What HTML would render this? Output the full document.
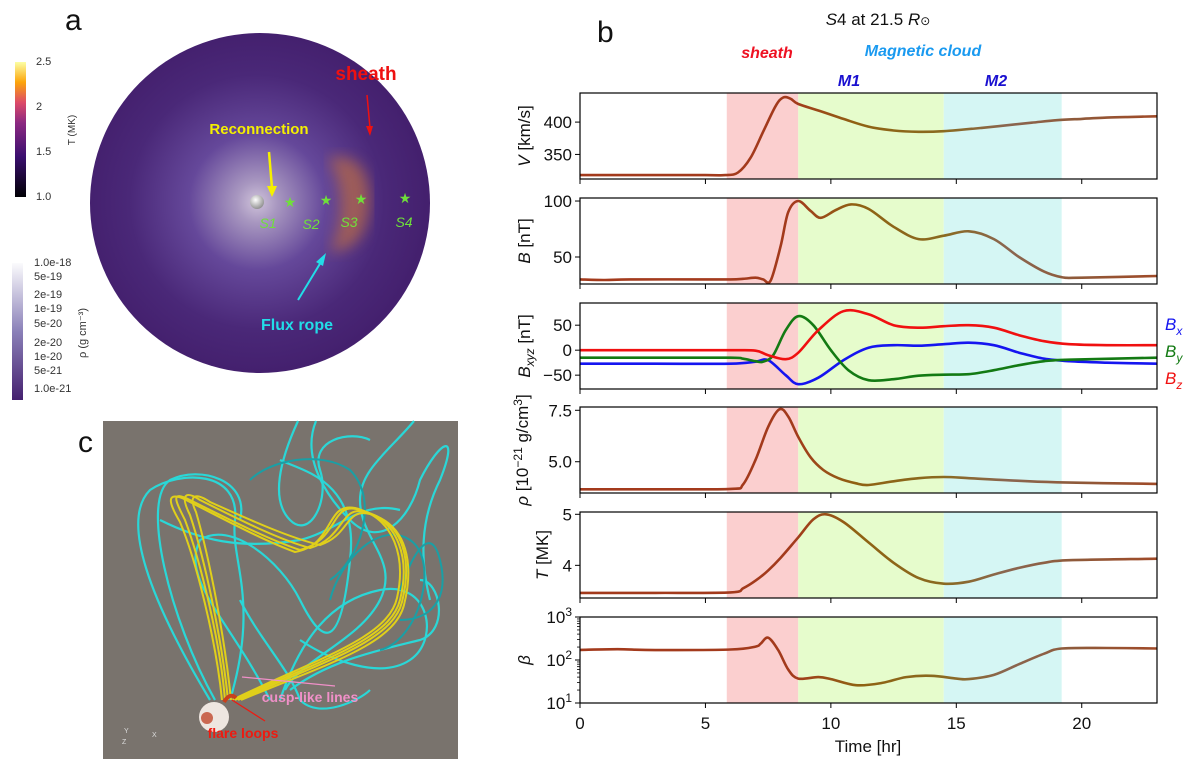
<!DOCTYPE html>
<html><head><meta charset="utf-8"><style>
html,body{margin:0;padding:0;background:#fff;}
svg{display:block;font-family:"Liberation Sans","DejaVu Sans",sans-serif;}
</style></head><body>
<svg id="fig" width="1200" height="759" viewBox="0 0 1200 759" xmlns="http://www.w3.org/2000/svg">
<defs>
<linearGradient id="tbar" x1="0" y1="1" x2="0" y2="0">
<stop offset="0" stop-color="#000004"/><stop offset="0.3" stop-color="#3b0f6f"/><stop offset="0.55" stop-color="#8c2981"/><stop offset="0.7" stop-color="#dd4a68"/><stop offset="0.85" stop-color="#fca50a"/><stop offset="1" stop-color="#fcffa4"/></linearGradient>
<linearGradient id="rbar" x1="0" y1="1" x2="0" y2="0">
<stop offset="0" stop-color="#45206f"/><stop offset="0.5" stop-color="#8a80b8"/><stop offset="1" stop-color="#fbfbfd"/></linearGradient>
<radialGradient id="glow" cx="257" cy="202" r="170" gradientUnits="userSpaceOnUse">
<stop offset="0" stop-color="#cfc2da"/><stop offset="0.12" stop-color="#a897c0"/><stop offset="0.4" stop-color="#65489a"/><stop offset="0.75" stop-color="#4a2878"/><stop offset="1" stop-color="#44206e"/></radialGradient>
<radialGradient id="sunG" cx="0.4" cy="0.35" r="0.7"><stop offset="0" stop-color="#fff"/><stop offset="1" stop-color="#8a8a8a"/></radialGradient>
<filter id="blur"><feGaussianBlur stdDeviation="7"/></filter>
<linearGradient id="lineG" x1="580" y1="0" x2="1157" y2="0" gradientUnits="userSpaceOnUse">
<stop offset="0" stop-color="#a33a1c"/><stop offset="0.37" stop-color="#a33a1c"/><stop offset="0.48" stop-color="#8f6212"/><stop offset="0.63" stop-color="#8a6a20"/><stop offset="0.74" stop-color="#8a6650"/><stop offset="0.86" stop-color="#8f5a3a"/><stop offset="1" stop-color="#a04a28"/></linearGradient>
</defs>

<!-- Panel a -->
<text x="65" y="30" font-size="30" fill="#111">a</text>
<rect x="15" y="62" width="11" height="135" fill="url(#tbar)"/>
<g font-size="11" fill="#333">
<text x="36" y="65">2.5</text><text x="36" y="110">2</text><text x="36" y="155">1.5</text><text x="36" y="200">1.0</text>
</g>
<text transform="translate(75,130) rotate(-90)" font-size="10" fill="#333" text-anchor="middle">T (MK)</text>
<rect x="12" y="263" width="11" height="137" fill="url(#rbar)"/>
<g font-size="11" fill="#333">
<text x="34" y="266">1.0e-18</text><text x="34" y="280">5e-19</text><text x="34" y="298">2e-19</text><text x="34" y="312">1e-19</text><text x="34" y="327">5e-20</text><text x="34" y="346">2e-20</text><text x="34" y="360">1e-20</text><text x="34" y="374">5e-21</text><text x="34" y="392">1.0e-21</text>
</g>
<text transform="translate(86,333) rotate(-90)" font-size="11" fill="#333" text-anchor="middle">ρ (g cm⁻³)</text>

<circle cx="260" cy="203" r="170" fill="url(#glow)"/>
<path d="M328,158 Q368,150 370,200 Q368,250 330,252 Q352,200 328,158Z" fill="#c27040" opacity="0.65" filter="url(#blur)"/>
<circle cx="257" cy="202" r="7" fill="url(#sunG)"/>
<g fill="#6fe03a" font-size="14">
<text x="290" y="207" text-anchor="middle">★</text><text x="326" y="205" text-anchor="middle">★</text><text x="361" y="204" text-anchor="middle">★</text><text x="405" y="203" text-anchor="middle">★</text>
</g>
<g fill="#6fe03a" font-size="14" font-style="italic" text-anchor="middle">
<text x="268" y="228">S1</text><text x="311" y="229">S2</text><text x="349" y="227">S3</text><text x="404" y="227">S4</text>
</g>
<text x="259" y="134" font-size="15" font-weight="bold" fill="#f5f000" text-anchor="middle">Reconnection</text>
<line x1="269" y1="152" x2="272" y2="188" stroke="#f5f000" stroke-width="2.5"/>
<path d="M267,186 L272,197 L277,186Z" fill="#f5f000"/>
<text x="366" y="80" font-size="19" font-weight="bold" fill="#ee1111" text-anchor="middle">sheath</text>
<line x1="367" y1="95" x2="370" y2="128" stroke="#ee1111" stroke-width="1.5"/>
<path d="M366,126 L370,136 L373,126Z" fill="#ee1111"/>
<text x="297" y="330" font-size="16" font-weight="bold" fill="#22dde8" text-anchor="middle">Flux rope</text>
<line x1="298" y1="300" x2="321" y2="262" stroke="#22dde8" stroke-width="2"/>
<path d="M316,262 L326,253 L323,266Z" fill="#22dde8"/>

<!-- Panel c -->
<text x="78" y="452" font-size="30" fill="#111">c</text>
<rect x="103" y="421" width="355" height="338" fill="#79736d"/>
<g fill="none" stroke="#2ad7d7" stroke-width="2.2">
<path d="M210,700 C150,600 120,520 150,490 C180,470 240,470 235,520 C230,560 260,600 230,700"/>
<path d="M215,700 C170,620 140,500 170,480 C200,465 250,480 240,520"/>
<path d="M270,700 C230,620 180,580 200,540 C230,520 280,560 300,600 C320,640 340,660 350,560 C360,480 300,470 280,460"/>
<path d="M280,700 C300,640 330,600 380,590 C430,580 440,640 410,660 C380,680 330,660 300,640"/>
<path d="M298,421 C280,460 270,500 290,520 C310,540 330,500 320,470 C310,440 350,430 370,440"/>
<path d="M316,421 C300,460 330,500 350,520 C380,550 410,520 420,480 C440,440 460,430 440,480 C420,520 420,560 430,600"/>
<path d="M414,421 C390,450 360,470 360,500 C360,540 400,560 380,600 C360,640 300,660 285,690"/>
<path d="M290,690 C330,660 380,650 420,640 C450,630 440,580 420,580"/>
<path d="M240,600 C260,640 290,670 300,700 C320,720 360,700 370,690"/>
<path d="M160,520 C200,540 240,550 300,540 C340,530 360,500 400,510"/>
</g>
<g fill="none" stroke="#1a9fa5" stroke-width="2">
<path d="M330,600 C340,560 380,520 410,540 C440,560 420,640 380,650"/>
<path d="M250,480 C270,460 320,450 350,470 C380,500 360,560 330,580"/>
<path d="M400,620 C430,620 450,600 440,560 C430,520 410,560 400,590"/>
</g>
<g fill="none" stroke="#e0cf1a" stroke-width="2">
<path d="M225,700 C220,640 200,560 185,520 C175,500 170,490 190,500 C230,520 270,540 300,550 C340,540 330,500 360,510 C400,520 410,560 400,600 C390,640 320,660 235,700"/>
<path d="M228,700 C222,640 205,560 190,515 C180,495 185,490 200,500 C240,520 280,540 310,548 C345,538 340,505 365,512 C405,522 412,562 402,602 C392,642 322,662 238,700"/>
<path d="M231,700 C225,640 210,560 196,512 C188,495 195,492 210,502 C250,520 290,538 320,545 C350,535 345,508 370,514 C408,525 414,565 404,605 C394,645 324,665 241,700"/>
<path d="M222,700 C216,640 196,560 180,522 C170,505 165,492 182,498 C222,518 262,540 295,552 C335,545 325,502 355,508 C395,518 406,558 397,598 C388,638 318,658 232,700"/>
</g>
<circle cx="214" cy="717" r="15" fill="#eee6e0"/>
<circle cx="207" cy="718" r="6" fill="#c0492d" opacity="0.8"/>
<path d="M224,702 Q230,692 236,698" fill="none" stroke="#c8401c" stroke-width="4"/>
<text x="310" y="702" font-size="14" font-weight="bold" fill="#f090c8" text-anchor="middle">cusp-like lines</text>
<line x1="335" y1="686" x2="242" y2="677" stroke="#f090c8" stroke-width="1.2"/>
<text x="243" y="738" font-size="14" font-weight="bold" fill="#ee1a10" text-anchor="middle">flare loops</text>
<line x1="265" y1="721" x2="232" y2="700" stroke="#ee1a10" stroke-width="1.2"/>
<g font-size="7" fill="#ddd"><text x="124" y="733">Y</text><text x="122" y="744">Z</text><text x="152" y="737">X</text></g>

<!-- Panel b -->
<text x="597" y="42" font-size="30" fill="#111">b</text>
<text x="878" y="25" font-size="17" fill="#111" text-anchor="middle"><tspan font-style="italic">S</tspan>4 at 21.5 <tspan font-style="italic">R</tspan><tspan font-size="12">⊙</tspan></text>
<text x="767" y="58" font-size="16" font-weight="bold" font-style="italic" fill="#ee1122" text-anchor="middle">sheath</text>
<text x="923" y="56" font-size="16" font-weight="bold" font-style="italic" fill="#1a9af0" text-anchor="middle">Magnetic cloud</text>
<text x="849" y="86" font-size="16" font-weight="bold" font-style="italic" fill="#1a10d0" text-anchor="middle">M1</text>
<text x="996" y="86" font-size="16" font-weight="bold" font-style="italic" fill="#1a10d0" text-anchor="middle">M2</text>
<g id="charts"></g>
</svg>
<script>
const regionBounds = [5.85, 8.7, 14.5, 19.2];
const xTicks = [0, 5, 10, 15, 20];
const tV = [0,2,5,5.8,6.3,6.8,7.3,7.8,8.1,8.4,8.7,9.5,10.5,11.5,12.5,13.5,14.5,16,17,18,19,20,21,22,23];
const vV = [318,318,318,318,322,345,385,425,438,436,428,418,405,393,387,385,386,391,395,399,403,405,407,408,409];
const tB = [0,1,2,5,6,6.5,7,7.3,7.6,8,8.3,8.7,9.2,9.6,10.2,10.8,11.5,12.5,13.5,14.5,15.5,16.5,17.5,18.5,19.2,20,23];
const vB = [30,29.5,30,30,30,30.5,31.5,30,29,60,90,100,91,85,92,97,93,77,66,69,73,66,50,37,32,31.5,33];
const tBxyz = [0,3,6,7,7.5,8.2,8.7,9.5,10.5,11.5,12.5,13.5,14.5,15.5,16.5,17.5,18.5,19.5,21,23];
const vBx = [-27,-27,-27,-23,-20,-50,-68,-55,-20,5,10,9,12,15,10,-5,-17,-22,-25,-27];
const vBz = [0,0,0,-1,-10,-18,-5,40,78,72,50,45,48,50,45,30,18,12,10,10];
const tBy = [0,3,6,6.5,7,7.3,7.7,8.2,8.7,9.3,10,10.7,11.5,12.5,13.5,14.5,15.5,16.5,17.5,18.5,19.5,23];
const vBy = [-15,-15,-15,-17,-22,-23,-10,40,68,50,0,-40,-60,-58,-51,-49,-48,-40,-30,-22,-19,-15];
const tRho = [0,3,6,6.5,7,7.5,7.95,8.3,8.7,9.2,9.7,10.3,11,11.5,12.5,13.5,14.5,15.5,17,19,23];
const vRho = [3.66,3.66,3.68,3.9,5.1,6.7,7.55,7.2,6.2,5.2,4.6,4.2,3.95,3.87,4.05,4.2,4.26,4.2,4.1,4.0,3.92];
const tT = [0,3,6,6.5,7,7.5,8,8.7,9.3,9.8,10.5,11.5,12.5,13.5,14.5,15.5,16.5,17.5,18.5,19.5,23];
const vT = [3.46,3.46,3.47,3.55,3.7,3.9,4.15,4.55,4.9,5.0,4.85,4.45,4.05,3.75,3.64,3.68,3.82,3.95,4.05,4.1,4.13];
const tBeta = [0,1.5,3,6,7,7.2,7.5,7.9,8.3,8.7,9.5,10,11,12,13,14,15,15.5,16.5,17.5,18.5,19.2,21,23];
const vBeta = [172,178,170,175,205,240,330,170,60,37,40,36,26,29,40,43,37,36,45,80,140,185,190,185];

const NS='http://www.w3.org/2000/svg';
const root=document.getElementById('charts');
const X0=580,X1=1157,TMAX=23;
const xs=t=>X0+(t/TMAX)*(X1-X0);
function el(tag,attrs,parent){const e=document.createElementNS(NS,tag);for(const k in attrs)e.setAttribute(k,attrs[k]);(parent||root).appendChild(e);return e;}
function smooth(pts){let d='M'+pts[0][0].toFixed(1)+','+pts[0][1].toFixed(1);
 for(let i=0;i<pts.length-1;i++){const p0=pts[Math.max(0,i-1)],p1=pts[i],p2=pts[i+1],p3=pts[Math.min(pts.length-1,i+2)];
 const c1=[p1[0]+(p2[0]-p0[0])/6,p1[1]+(p2[1]-p0[1])/6],c2=[p2[0]-(p3[0]-p1[0])/6,p2[1]-(p3[1]-p1[1])/6];
 d+=' C'+c1[0].toFixed(1)+','+c1[1].toFixed(1)+' '+c2[0].toFixed(1)+','+c2[1].toFixed(1)+' '+p2[0].toFixed(1)+','+p2[1].toFixed(1);}return d;}
function panel(name,top,ymin,ymax,ticks,tickLabels,label,series,opts){
 opts=opts||{};const H=86,bot=top+H;
 const ys=opts.log?(v=>bot-(Math.log10(v)-Math.log10(ymin))/(Math.log10(ymax)-Math.log10(ymin))*H):(v=>bot-(v-ymin)/(ymax-ymin)*H);
 const g=el('g',{});
 
 
 const cols=['#fbcfcf','#e6fccc','#d5f6f4'];
 for(let i=0;i<3;i++){const r=el('rect',{x:xs(regionBounds[i]),y:top,width:xs(regionBounds[i+1])-xs(regionBounds[i]),height:H,fill:cols[i]},g);
  
  }
 ticks.forEach((v,i)=>{const y=ys(v);el('line',{x1:X0-5,x2:X0,y1:y,y2:y,stroke:'#000','stroke-width':1},g);
  const tx=el('text',{x:X0-8,y:y+6,'font-size':17,'text-anchor':'end',fill:'#111'},g);
  if(opts.log){tx.textContent='10';const s=el('tspan',{dy:-7,'font-size':12},tx);s.textContent=tickLabels[i];}
  else tx.textContent=tickLabels[i];
  
  });
 if(opts.log){for(let d=1;d<3;d++)for(let m=2;m<10;m++){const y=ys(m*Math.pow(10,d));el('line',{x1:X0-3,x2:X0,y1:y,y2:y,stroke:'#000','stroke-width':0.8},g);}}
 xTicks.forEach(v=>{el('line',{x1:xs(v),x2:xs(v),y1:bot,y2:bot+5,stroke:'#000','stroke-width':1},g);});
 series.forEach(s=>{const pts=s.t.map((t,i)=>[xs(t),ys(s.v[i])]);const p=el('path',{d:smooth(pts),fill:'none',stroke:s.c,'stroke-width':2.6,'stroke-linejoin':'round'},g);
  
  });
 el('rect',{x:X0,y:top,width:X1-X0,height:H,fill:'none',stroke:'#000','stroke-width':1.2},g);
 const yl=el('text',{transform:'translate('+(opts.lx||530)+','+(top+H/2)+') rotate(-90)','font-size':17,'text-anchor':'middle',fill:'#111'},g);
 yl.innerHTML=label;
 
 
 return bot;}
panel('velocity',93,312,445,[350,400],['350','400'],'<tspan font-style="italic">V</tspan> [km/s]',[{t:tV,v:vV,c:'url(#lineG)',n:'velocity-line'}]);
panel('field',198,25.9,102.7,[50,100],['50','100'],'<tspan font-style="italic">B</tspan> [nT]',[{t:tB,v:vB,c:'url(#lineG)',n:'field-magnitude-line'}]);
panel('components',303,-77.7,94.4,[-50,0,50],['−50','0','50'],'<tspan font-style="italic">B</tspan><tspan font-style="italic" font-size="12" dy="4">xyz</tspan><tspan dy="-4"> [nT]</tspan>',[
 {t:tBxyz,v:vBx,c:'#1515f0',n:'bx-line'},{t:tBy,v:vBy,c:'#137a13',n:'by-line'},{t:tBxyz,v:vBz,c:'#f01010',n:'bz-line'}]);
panel('density',407,3.48,7.66,[5.0,7.5],['5.0','7.5'],'<tspan font-style="italic">ρ</tspan> [10<tspan font-size="12" dy="-6">−21</tspan><tspan dy="6"> g/cm</tspan><tspan font-size="12" dy="-6">3</tspan><tspan dy="6">]</tspan>',[{t:tRho,v:vRho,c:'url(#lineG)',n:'density-line'}],{lx:528});
panel('temperature',512,3.36,5.045,[4,5],['4','5'],'<tspan font-style="italic">T</tspan> [MK]',[{t:tT,v:vT,c:'url(#lineG)',n:'temperature-line'}],{lx:548});
panel('beta',617,10,1000,[10,100,1000],['1','2','3'],'<tspan font-style="italic">β</tspan>',[{t:tBeta,v:vBeta,c:'url(#lineG)',n:'beta-line'}],{log:true,lx:530});
xTicks.forEach(v=>{const t=el('text',{x:xs(v),y:729,'font-size':17,'text-anchor':'middle',fill:'#111'});t.textContent=v;
 
 });
const xt=el('text',{x:868,y:752,'font-size':17,'text-anchor':'middle',fill:'#111'});xt.textContent='Time [hr]';


[['x','#1515f0',330],['y','#137a13',357],['z','#f01010',384]].forEach(a=>{const t=el('text',{x:1165,y:a[2],'font-size':17,'font-style':'italic',fill:a[1]});
 t.innerHTML='B<tspan font-size="12" dy="5">'+a[0]+'</tspan>';
 
 });
</script>
</body></html>
